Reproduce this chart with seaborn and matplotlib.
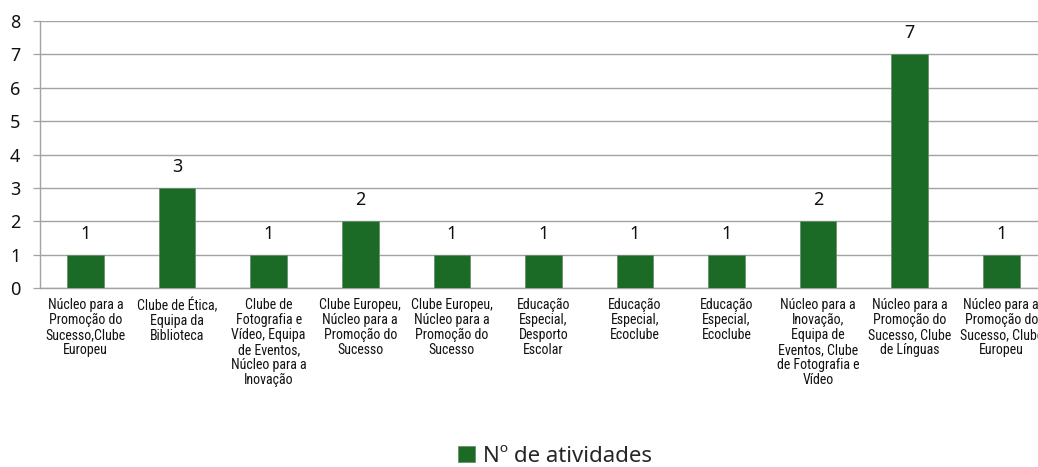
import matplotlib
matplotlib.use("Agg")
import matplotlib.pyplot as plt
import seaborn as sns
import pandas as pd
import numpy as np
from matplotlib.font_manager import fontManager

categories = [
    "Núcleo para a\nPromoção do\nSucesso,Clube\nEuropeu",
    "Clube de Ética,\nEquipa da\nBiblioteca",
    "Clube de\nFotografia e\nVídeo, Equipa\nde Eventos,\nNúcleo para a\nInovação",
    "Clube Europeu,\nNúcleo para a\nPromoção do\nSucesso",
    "Clube Europeu,\nNúcleo para a\nPromoção do\nSucesso",
    "Educação\nEspecial,\nDesporto\nEscolar",
    "Educação\nEspecial,\nEcoclube",
    "Educação\nEspecial,\nEcoclube",
    "Núcleo para a\nInovação,\nEquipa de\nEventos, Clube\nde Fotografia e\nVídeo",
    "Núcleo para a\nPromoção do\nSucesso, Clube\nde Línguas",
    "Núcleo para a\nPromoção do\nSucesso, Clube\nEuropeu",
]
values = [1, 3, 1, 2, 1, 1, 1, 1, 2, 7, 1]
series_name = "Nº de atividades"
y_ticks = [0, 1, 2, 3, 4, 5, 6, 7, 8]

sns.set_theme(style="white")
installed = {f.name for f in fontManager.ttflist}
num_font = ["Noto Sans", "DejaVu Sans"]
cat_font = [f for f in ["Liberation Sans Narrow", "Roboto Condensed", "Roboto"] if f in installed] + ["DejaVu Sans"]
plt.rcParams["font.family"] = num_font

GREEN = "#1b6b26"
GRID = "#a3a3a3"

fig = plt.figure(figsize=(10.38, 4.67), dpi=100)
ax = fig.add_axes([39.7 / 1038, 1 - 288 / 467, (1047.1 - 39.7) / 1038, (288 - 21) / 467])

idx = [str(i) for i in range(len(values))]
df = pd.DataFrame({"cat": idx, "val": values})
sns.barplot(data=df, x="cat", y="val", color=GREEN, saturation=1, width=0.4,
            edgecolor="#6a8f6e", linewidth=0.6, ax=ax, zorder=3)

ax.set_xlim(-0.5, len(values) - 0.5)
ax.set_ylim(0, 8)
ax.set_yticks(y_ticks)
ax.set_yticklabels([str(t) for t in y_ticks], fontsize=13, color="#111111")
ax.yaxis.grid(True, color=GRID, linewidth=1.0, zorder=0)
ax.xaxis.grid(False)
ax.set_xlabel("")
ax.set_ylabel("")

ax.set_xticks(range(len(values)))
ax.set_xticklabels(categories, fontsize=10, family=cat_font, linespacing=1.1,
                   va="top", ha="center", color="#111111")
ax.set_xticks(np.arange(-0.5, len(values), 1.0), minor=True)
ax.tick_params(axis="x", which="major", length=0, pad=7)
ax.tick_params(axis="x", which="minor", length=5, width=0.9, color=GRID, direction="out")
ax.tick_params(axis="y", which="major", length=5, width=0.9, color=GRID, pad=9, direction="out", left=True)

for s in ["top", "right"]:
    ax.spines[s].set_visible(False)
for s in ["left", "bottom"]:
    ax.spines[s].set_visible(True)
    ax.spines[s].set_color(GRID)
    ax.spines[s].set_linewidth(1.0)

for i, v in enumerate(values):
    ax.annotate(str(v), (i, v), xytext=(0, 11.5), textcoords="offset points",
                ha="center", va="baseline", fontsize=13, color="#111111")

leg = fig.legend(handles=ax.containers[0][:1], labels=[series_name], loc="center",
                 bbox_to_anchor=(555 / 1038, 1 - 456 / 467), frameon=False,
                 fontsize=16, handlelength=0.75, handleheight=0.75, handletextpad=0.35)

fig.savefig("out.png", dpi=100)
